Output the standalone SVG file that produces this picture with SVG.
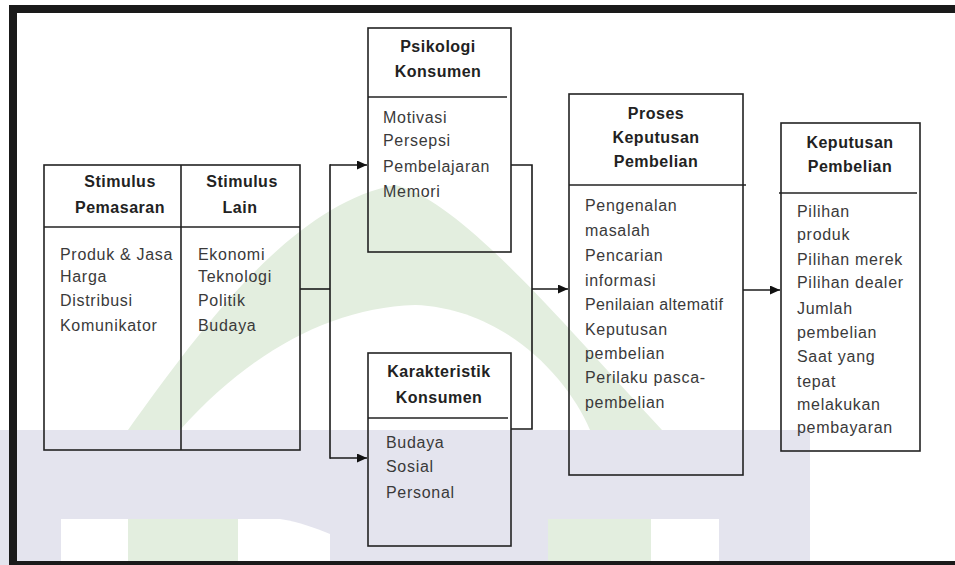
<svg xmlns="http://www.w3.org/2000/svg" width="955" height="565" viewBox="0 0 955 565">
<style>
.box{fill:none;stroke:#222;stroke-width:1.6}
.sep{stroke:#222;stroke-width:1.6}
.t{font-family:"Liberation Sans",Arial,sans-serif;font-size:16px;font-weight:bold;fill:#222;text-anchor:middle;letter-spacing:0.5px}
.b{font-family:"Liberation Sans",Arial,sans-serif;font-size:16px;fill:#3a3a3a;letter-spacing:0.7px}
.c{fill:none;stroke:#1a1a1a;stroke-width:1.6}
</style>
<defs>
<marker id="ah" markerUnits="userSpaceOnUse" markerWidth="11" markerHeight="10" refX="10" refY="4.5" orient="auto">
<path d="M0,0 L10,4.5 L0,9 z" fill="#111"/>
</marker>
</defs>
<rect width="955" height="565" fill="#fff"/>
<g id="watermark">
<path d="M128,430 C200,330 290,205 395,185 C460,200 560,320 662,430 Z" fill="#e3eedf"/>
<path d="M180,430 C250,352 330,308 415,305 C500,308 565,372 590,430 Z" fill="#fff"/>
<rect x="0" y="430" width="810" height="135" fill="#e4e4ee"/>
<rect x="61" y="519" width="67" height="46" fill="#fff"/>
<rect x="128" y="519" width="110" height="46" fill="#e3eedf"/>
<path d="M238,519 L280,519 C300,522 315,528 330,534 L330,565 L238,565 Z" fill="#fff"/>
<rect x="548" y="519" width="103" height="46" fill="#e3eedf"/>
<rect x="651" y="519" width="68" height="46" fill="#fff"/>
</g>
<g id="frame" fill="#1a1a1a">
<rect x="9" y="5" width="946" height="8"/>
<rect x="9" y="5" width="8" height="560"/>
<rect x="9" y="561" width="946" height="4"/>
</g>
<g id="connectors">
<line class="c" x1="300" y1="289" x2="330" y2="289"/>
<line class="c" x1="330" y1="164.2" x2="330" y2="458.8"/>
<line class="c" x1="330" y1="165" x2="367" y2="165" marker-end="url(#ah)"/>
<line class="c" x1="330" y1="458" x2="367" y2="458" marker-end="url(#ah)"/>
<polyline class="c" points="511,165 532,165 532,429 511,429"/>
<line class="c" x1="532" y1="289" x2="568" y2="289" marker-end="url(#ah)"/>
<line class="c" x1="743" y1="290" x2="780" y2="290" marker-end="url(#ah)"/>
</g>
<g id="stimulus">
<rect class="box" x="44" y="165" width="256" height="285"/>
<line class="sep" x1="181" y1="165" x2="181" y2="450"/>
<line class="sep" x1="44" y1="227" x2="300" y2="227"/>
<text class="t" x="120" y="187">Stimulus</text>
<text class="t" x="120" y="213">Pemasaran</text>
<text class="t" x="242" y="187">Stimulus</text>
<text class="t" x="240" y="213">Lain</text>
<text class="b" x="60" y="260">Produk &amp; Jasa</text>
<text class="b" x="60" y="282">Harga</text>
<text class="b" x="60" y="306">Distribusi</text>
<text class="b" x="60" y="331">Komunikator</text>
<text class="b" x="198" y="260">Ekonomi</text>
<text class="b" x="198" y="282">Teknologi</text>
<text class="b" x="198" y="306">Politik</text>
<text class="b" x="198" y="331">Budaya</text>
</g>
<g id="psikologi">
<rect class="box" x="368" y="28" width="143" height="224"/>
<line class="sep" x1="368" y1="97" x2="507" y2="97"/>
<text class="t" x="438" y="52">Psikologi</text>
<text class="t" x="438" y="77">Konsumen</text>
<text class="b" x="383" y="123">Motivasi</text>
<text class="b" x="383" y="146">Persepsi</text>
<text class="b" x="383" y="172">Pembelajaran</text>
<text class="b" x="383" y="197">Memori</text>
</g>
<g id="karakteristik">
<rect class="box" x="368" y="353" width="143" height="193"/>
<line class="sep" x1="368" y1="418" x2="508" y2="418"/>
<text class="t" x="439" y="377">Karakteristik</text>
<text class="t" x="439" y="403">Konsumen</text>
<text class="b" x="386" y="448">Budaya</text>
<text class="b" x="386" y="472">Sosial</text>
<text class="b" x="386" y="498">Personal</text>
</g>
<g id="proses">
<rect class="box" x="569" y="94" width="174" height="381"/>
<line class="sep" x1="569" y1="185" x2="746" y2="185"/>
<text class="t" x="656" y="119">Proses</text>
<text class="t" x="656" y="143">Keputusan</text>
<text class="t" x="656" y="167">Pembelian</text>
<text class="b" x="585" y="211">Pengenalan</text>
<text class="b" x="585" y="236">masalah</text>
<text class="b" x="585" y="261">Pencarian</text>
<text class="b" x="585" y="286">informasi</text>
<text class="b" x="585" y="310" style="letter-spacing:0.4px">Penilaian altematif</text>
<text class="b" x="585" y="335">Keputusan</text>
<text class="b" x="585" y="359">pembelian</text>
<text class="b" x="585" y="383">Perilaku pasca-</text>
<text class="b" x="585" y="408">pembelian</text>
</g>
<g id="keputusan">
<rect class="box" x="781" y="123" width="139" height="328"/>
<line class="sep" x1="779" y1="193" x2="917" y2="193"/>
<text class="t" x="850" y="148">Keputusan</text>
<text class="t" x="850" y="172">Pembelian</text>
<text class="b" x="797" y="217">Pilihan</text>
<text class="b" x="797" y="240">produk</text>
<text class="b" x="797" y="265">Pilihan merek</text>
<text class="b" x="797" y="288">Pilihan dealer</text>
<text class="b" x="797" y="314">Jumlah</text>
<text class="b" x="797" y="338">pembelian</text>
<text class="b" x="797" y="362">Saat yang</text>
<text class="b" x="797" y="387">tepat</text>
<text class="b" x="797" y="410">melakukan</text>
<text class="b" x="797" y="433">pembayaran</text>
</g>
</svg>
